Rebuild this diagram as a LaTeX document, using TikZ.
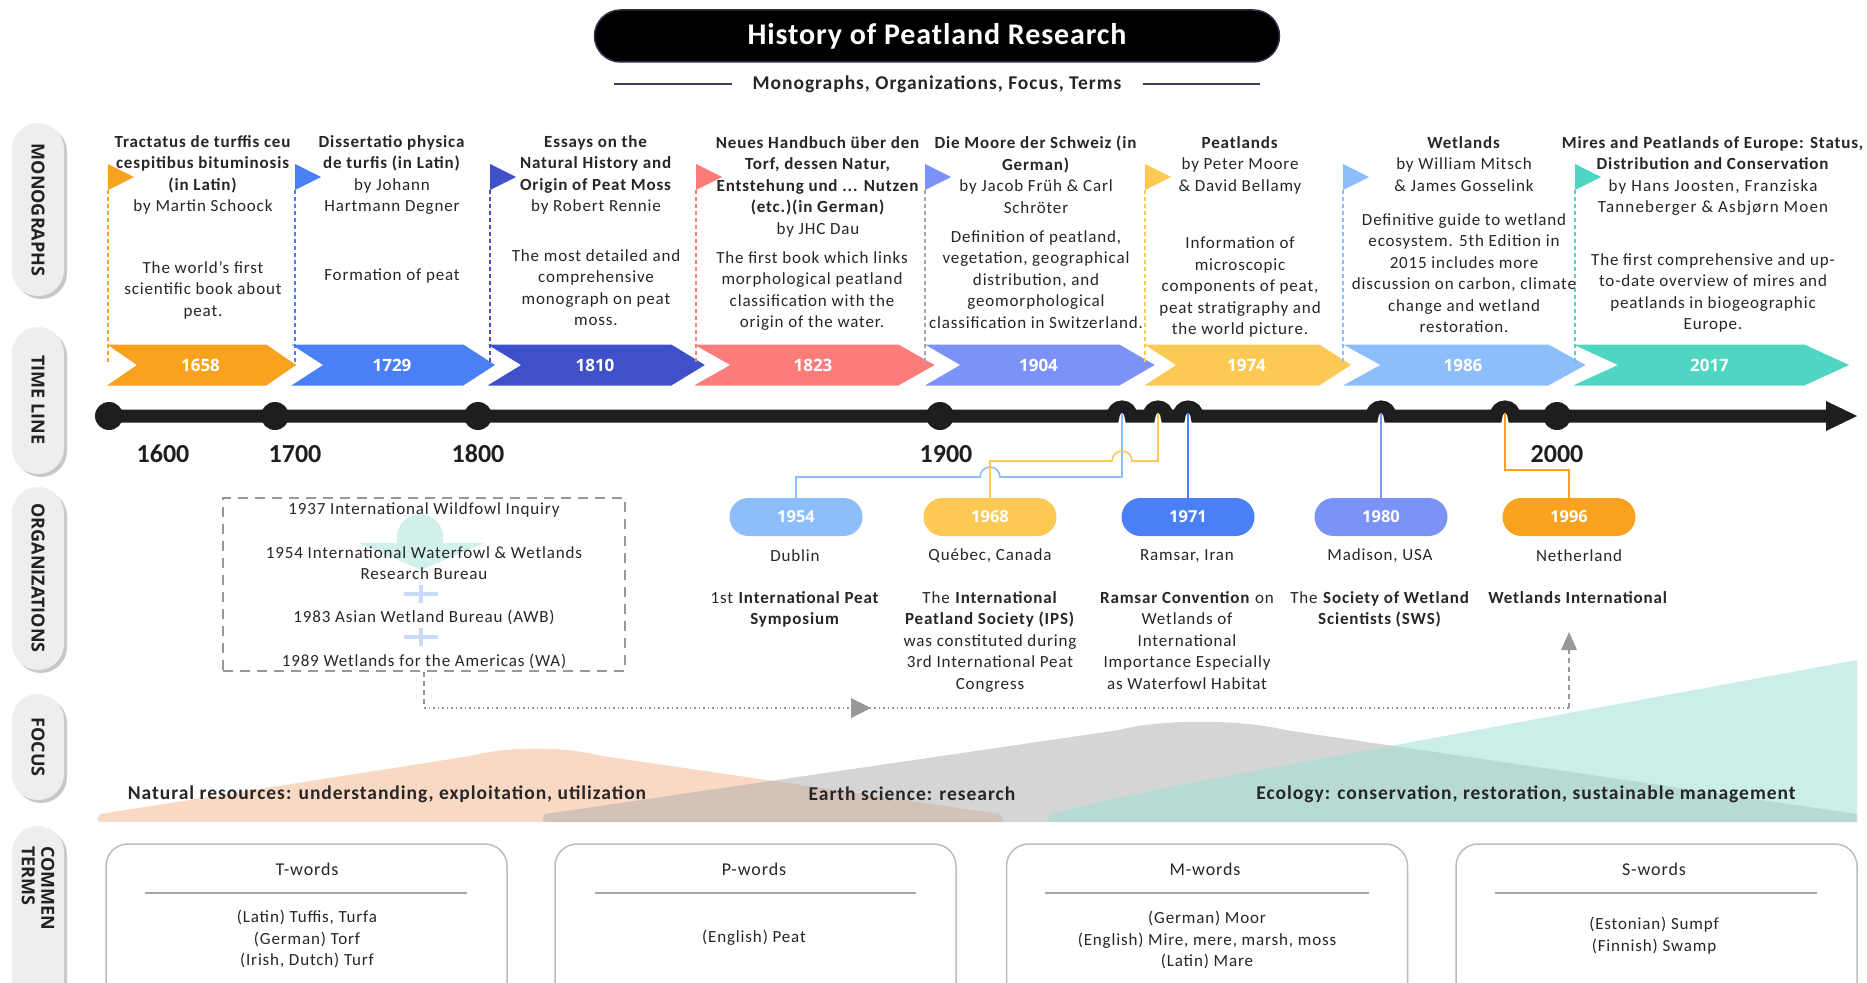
\documentclass[tikz,border=0pt]{standalone}
\usepackage{fontspec}
\setmainfont{Carlito}[LetterSpace=5]
\newfontfamily\osans{Open Sans}
\usetikzlibrary{arrows.meta}
\definecolor{txt}{HTML}{262626}
\definecolor{tlc}{HTML}{1E1E1E}
\definecolor{navyb}{HTML}{2A2F4A}
\definecolor{subln}{HTML}{3A3D5C}
\definecolor{corange}{HTML}{F8A21F}
\definecolor{cblue}{HTML}{4A80F6}
\definecolor{cnavy}{HTML}{3F51C9}
\definecolor{csalmon}{HTML}{FC7C7A}
\definecolor{cperi}{HTML}{7B92F8}
\definecolor{cyellow}{HTML}{FCC955}
\definecolor{clblue}{HTML}{8BBEFA}
\definecolor{cteal}{HTML}{4FD6C3}
\definecolor{pillfill}{HTML}{EEEEEE}
\definecolor{pillshadow}{HTML}{C8C8C8}
\definecolor{sectxt}{HTML}{222222}
\definecolor{boxgray}{HTML}{BDBDBD}
\definecolor{rulegray}{HTML}{A6A6A6}
\definecolor{dashgray}{HTML}{989898}
\definecolor{peach}{HTML}{F6B58A}
\definecolor{hillgray}{HTML}{ADADAD}
\definecolor{hillteal}{HTML}{9BDFD3}
\definecolor{arrteal}{HTML}{D3F1EC}
\definecolor{plusblue}{HTML}{C7DBF9}
\newcommand\mychev[6]{%
  \fill[#4, draw=white, line width=3pt] (#1,343) -- (#2,343) -- (#2+#3,365) -- (#2,387) -- (#1,387) -- (#1+#3,365) -- cycle;
  \node[yr] (#6) at ({(#1+#2+#3)/2},365) {#5};}
\newcommand\myflag[3]{%
  \fill[#2] (#1,164) -- (#1+26,177) -- (#1,190) -- cycle;
  \coordinate (#3) at (#1,190);}
\newcommand\mysecpill[2]{%
  \fill[pillshadow, rounded corners=26pt] (15,#1+3) rectangle (67,#2+3);
  \fill[pillfill, rounded corners=26pt] (12,#1) rectangle (64,#2);}
\begin{document}
\begin{tikzpicture}[x=1pt,y=-1pt,
 mono/.style={font=\fontsize{17}{21.5}\selectfont, align=center, inner sep=0pt, text=txt, anchor=north},
 yr/.style={font=\osans\bfseries\fontsize{17}{20}\selectfont, text=white, inner sep=0pt},
 yl/.style={font=\bfseries\fontsize{26}{30}\selectfont\addfontfeature{LetterSpace=0}, text=tlc, inner sep=0pt},
 opill/.style={rounded corners=19pt, minimum width=133pt, minimum height=38pt, text=white, font=\osans\bfseries\fontsize{16.5}{20}\selectfont, inner sep=0pt},
 oloc/.style={font=\fontsize{17}{21.5}\selectfont, text=txt, inner sep=0pt},
 conn/.style={line width=1.6pt},
 flagdash/.style={line width=1.3pt, dash pattern=on 4pt off 3pt},
 seclab/.style={font=\osans\bfseries\fontsize{18}{19.5}\selectfont, rotate=-90, text=sectxt, inner sep=0pt},
 termbox/.style={draw=boxgray, line width=1.5pt, rounded corners=22pt, minimum width=401pt, minimum height=170pt},
 termtitle/.style={font=\fontsize{18}{21.5}\selectfont, text=txt, inner sep=0pt},
 rule/.style={draw=rulegray, line width=2.5pt},
 focuslab/.style={font=\bfseries\fontsize{19.5}{22}\selectfont, text=txt, inner sep=0pt},
 tl/.style={draw=tlc, line width=13pt},
 dotline/.style={draw=dashgray, line width=1.5pt, dash pattern=on 1.5pt off 3pt},
 vdash/.style={draw=dashgray, line width=1.5pt, dash pattern=on 5pt off 4pt}
]
\useasboundingbox (0,0) rectangle (1867,982);
\fill[white] (0,0) rectangle (1867,982);

% ---------- title ----------
\node[fill=black, draw=navyb, line width=1.5pt, rounded corners=26pt, minimum width=685pt, minimum height=52pt, text=white, font=\bfseries\fontsize{30}{34}\selectfont\addfontfeature{LetterSpace=3}] (title) at (937,36) {History of Peatland Research};
\node[font=\bfseries\fontsize{19.5}{22}\selectfont, text=txt, inner sep=0pt] (sub) at (937,84) {Monographs, Organizations, Focus, Terms};
\coordinate (sl1) at (614,84); \coordinate (sl2) at (732,84);
\coordinate (sr1) at (1143,84); \coordinate (sr2) at (1260,84);
\draw[subln, line width=2pt] (sl1) -- (sl2);
\draw[subln, line width=2pt] (sr1) -- (sr2);

% ---------- section pills ----------
\mysecpill{123}{296}
\mysecpill{327}{474}
\mysecpill{487}{670}
\mysecpill{694}{800}
\mysecpill{826}{1010}
\node[seclab] (lmono) at (38,210) {MONOGRAPHS};
\node[seclab] (ltime) at (38,400) {TIME LINE};
\node[seclab] (lorg) at (38,578) {ORGANIZATIONS};
\node[seclab] (lfocus) at (38,747) {FOCUS};
\node[seclab, align=left, anchor=west] (lterms) at (38,846) {COMMEN\\TERMS};

% ---------- chevrons ----------
\mychev{102}{267}{32}{corange}{1658}{c1658}
\mychev{286}{464}{34}{cblue}{1729}{c1729}
\mychev{482}{672}{36}{cnavy}{1810}{c1810}
\mychev{688}{899}{39}{csalmon}{1823}{c1823}
\mychev{919}{1120}{38}{cperi}{1904}{c1904}
\mychev{1139}{1320}{34}{cyellow}{1974}{c1974}
\mychev{1337}{1549}{40}{clblue}{1986}{c1986}
\mychev{1566}{1805}{48}{cteal}{2017}{c2017}

% ---------- flags ----------
\myflag{108}{corange}{f1}
\myflag{295}{cblue}{f2}
\myflag{490}{cnavy}{f3}
\myflag{696}{csalmon}{f4}
\myflag{925}{cperi}{f5}
\myflag{1145}{cyellow}{f6}
\myflag{1343}{clblue}{f7}
\myflag{1575}{cteal}{f8}
\draw[flagdash, corange] (f1) -- (f1 |- c1658);
\draw[flagdash, cblue] (f2) -- (f2 |- c1729);
\draw[flagdash, cnavy] (f3) -- (f3 |- c1810);
\draw[flagdash, csalmon] (f4) -- (f4 |- c1823);
\draw[flagdash, black!35] (f5) -- (f5 |- c1904);
\draw[flagdash, cyellow] (f6) -- (f6 |- c1974);
\draw[flagdash, clblue] (f7) -- (f7 |- c1986);
\draw[flagdash, cteal] (f8) -- (f8 |- c2017);

% ---------- monographs ----------
\node[mono] (m1) at (203,135) {\textbf{Tractatus de turffis ceu}\\\textbf{cespitibus bituminosis}\\\textbf{(in Latin)}\\by Martin Schoock};
\node[mono] (d1) at (203,261) {The world's first\\scientific book about\\peat.};
\node[mono] (m2) at (392,135) {\textbf{Dissertatio physica}\\\textbf{de turfis (in Latin)}\\by Johann\\Hartmann Degner};
\node[mono] (d2) at (392,269) {Formation of peat};
\node[mono] (m3) at (596,135) {\textbf{Essays on the}\\\textbf{Natural History and}\\\textbf{Origin of Peat Moss}\\by Robert Rennie};
\node[mono] (d3) at (596,249) {The most detailed and\\comprehensive\\monograph on peat\\moss.};
\node[mono] (m4) at (818,136) {\textbf{Neues Handbuch über den}\\\textbf{Torf, dessen Natur,}\\\textbf{Entstehung und ... Nutzen}\\\textbf{(etc.)(in German)}\\by JHC Dau};
\node[mono] (d4) at (812,251) {The first book which links\\morphological peatland\\classification with the\\origin of the water.};
\node[mono] (m5) at (1036,136) {\textbf{Die Moore der Schweiz (in}\\\textbf{German)}\\by Jacob Früh \& Carl\\Schröter};
\node[mono] (d5) at (1036,230) {Definition of peatland,\\vegetation, geographical\\distribution, and\\geomorphological\\classification in Switzerland.};
\node[mono] (m6) at (1240,136) {\textbf{Peatlands}\\by Peter Moore\\\& David Bellamy};
\node[mono] (d6) at (1240,237) {Information of\\microscopic\\components of peat,\\peat stratigraphy and\\the world picture.};
\node[mono] (m7) at (1464,136) {\textbf{Wetlands}\\by William Mitsch\\\& James Gosselink};
\node[mono] (d7) at (1464,213) {Definitive guide to wetland\\ecosystem. 5th Edition in\\2015 includes more\\discussion on carbon, climate\\change and wetland\\restoration.};
\node[mono] (m8) at (1713,136) {\textbf{Mires and Peatlands of Europe: Status,}\\\textbf{Distribution and Conservation}\\\addfontfeature{LetterSpace=7}by Hans Joosten, Franziska\\\addfontfeature{LetterSpace=7}Tanneberger \& Asbjørn Moen};
\node[mono] (d8) at (1713,253) {The first comprehensive and up-\\to-date overview of mires and\\peatlands in biogeographic\\Europe.};

% ---------- time line ----------
\draw[tl] (109,416) -- (1113,416) arc[start angle=180,end angle=0,radius=9pt]
  -- (1149,416) arc[start angle=180,end angle=0,radius=9pt]
  -- (1179,416) arc[start angle=180,end angle=0,radius=9pt]
  -- (1372,416) arc[start angle=180,end angle=0,radius=9pt]
  -- (1496,416) arc[start angle=180,end angle=0,radius=9pt]
  -- (1830,416);
\fill[tlc] (1826,401) -- (1857,416) -- (1826,431) -- cycle;
\foreach \x in {109,275,478,940,1557} \fill[tlc] (\x,416) circle (14pt);
\node[yl] (y1600) at (163,454) {1600};
\node[yl] (y1700) at (295,454) {1700};
\node[yl] (y1800) at (478,454) {1800};
\node[yl] (y1900) at (946,454) {1900};
\node[yl] (y2000) at (1557,454) {2000};
\coordinate (h1) at (1122,413);
\coordinate (h2) at (1158,413);
\coordinate (h3) at (1188,413);
\coordinate (h4) at (1381,413);
\coordinate (h5) at (1505,413);

% ---------- organizations ----------
\node[opill, fill=clblue] (o1954) at (796,517) {1954};
\node[opill, fill=cyellow] (o1968) at (990,517) {1968};
\node[opill, fill=cblue] (o1971) at (1188,517) {1971};
\node[opill, fill=cperi] (o1980) at (1381,517) {1980};
\node[opill, fill=corange] (o1996) at (1569,517) {1996};

\draw[conn, clblue] (h1) -- (1122,477) -- (1000,477) arc[start angle=0,end angle=180,radius=10pt] -- (796,477) -- (o1954.north);
\draw[conn, cyellow] (h2) -- (1158,461) -- (1132,461) arc[start angle=0,end angle=180,radius=10pt] -- (990,461) -- (o1968.north);
\draw[conn, cblue] (h3) -- (o1971.north);
\draw[conn, cperi] (h4) -- (o1980.north);
\draw[conn, corange] (h5) -- (1505,470) -- (1569,470) -- (o1996.north);

\node[oloc] (l1954) at (795,556) {Dublin};
\node[oloc] (l1968) at (990,556) {Québec, Canada};
\node[oloc] (l1971) at (1187,556) {Ramsar, Iran};
\node[oloc] (l1980) at (1380,556) {Madison, USA};
\node[oloc] (l1996) at (1579,556) {Netherland};

\node[mono] (od1) at (795,591) {1st \textbf{International Peat}\\\textbf{Symposium}};
\node[mono] (od2) at (990,591) {The \textbf{International}\\\textbf{Peatland Society (IPS)}\\was constituted during\\3rd International Peat\\Congress};
\node[mono] (od3) at (1187,591) {\textbf{Ramsar Convention} on\\Wetlands of\\International\\Importance Especially\\as Waterfowl Habitat};
\node[mono] (od4) at (1380,591) {The \textbf{Society of Wetland}\\\textbf{Scientists (SWS)}};
\node[mono] (od5) at (1578,591) {\textbf{Wetlands International}};

% left dashed box
\fill[arrteal] (397,543) -- (397,537) arc[start angle=180,end angle=0,radius=23pt] -- (443,543) -- (484,543) -- (421,570) -- (358,543) -- cycle;
\draw[plusblue, line width=4pt] (404,594) -- (438,594) (421,585) -- (421,603);
\draw[plusblue, line width=4pt] (404,637) -- (438,637) (421,628) -- (421,646);
\node[draw=dashgray, line width=2.5pt, dash pattern=on 10pt off 7pt, minimum width=402pt, minimum height=173pt, inner sep=0pt] (orgbox) at (424,584.5) {};
\node[oloc] (ob1) at (424,510) {1937 International Wildfowl Inquiry};
\node[mono] (ob2) at (424,546) {1954 International Waterfowl \& Wetlands\\Research Bureau};
\node[oloc] (ob3) at (424,617) {1983 Asian Wetland Bureau (AWB)};
\node[oloc] (ob4) at (424,661) {1989 Wetlands for the Americas (WA)};

\coordinate (dl1) at (424,708);
\coordinate (dl2) at (1569,708);
\coordinate (wiarr) at (1569,632);
\draw[vdash] (orgbox.south) -- (dl1);
\draw[dotline] (dl1) -- (dl2);
\draw[vdash] (dl2) -- (1569,650);
\fill[dashgray] (1561,650) -- (wiarr) -- (1577,650) -- cycle;
\fill[dashgray] (851,698) -- (871,708) -- (851,718) -- cycle;

% ---------- focus ----------
\fill[peach, fill opacity=0.5] (100,814) -- (470,756) .. controls (510,746) and (562,746) .. (602,756) -- (1000,814) .. controls (1006,822) .. (990,822) -- (112,822) .. controls (96,822) .. (100,814) -- cycle;
\fill[hillgray, fill opacity=0.5] (545,814) -- (1119,730) .. controls (1160,719) and (1240,719) .. (1285,730) -- (1857,814) -- (1857,822) -- (557,822) .. controls (541,822) .. (545,814) -- cycle;
\fill[hillteal, fill opacity=0.5] (1050,814) .. controls (1080,806) and (1130,795) .. (1200,781) -- (1857,660) -- (1857,822) -- (1062,822) .. controls (1046,822) .. (1050,814) -- cycle;
\node[focuslab] (fc1) at (387,794) {Natural resources: understanding, exploitation, utilization};
\node[focuslab] (fc2) at (912,794) {Earth science: research};
\node[focuslab] (fc3) at (1526,794) {Ecology: conservation, restoration, sustainable management};

% ---------- terms ----------
\node[termbox] (tb1) at (306.5,929) {};
\node[termbox] (tb2) at (755.5,929) {};
\node[termbox] (tb3) at (1207,929) {};
\node[termbox] (tb4) at (1656.5,929) {};
\node[termtitle] (tt1) at (307,869) {T-words};
\node[termtitle] (tt2) at (754,869) {P-words};
\node[termtitle] (tt3) at (1205,869) {M-words};
\node[termtitle] (tt4) at (1654,869) {S-words};
\draw[rule] (145,893) -- (467,893);
\draw[rule] (595,893) -- (916,893);
\draw[rule] (1045,893) -- (1369,893);
\draw[rule] (1495,893) -- (1817,893);
\node[mono] (tc1) at (307,910) {(Latin) Tuffis, Turfa\\(German) Torf\\(Irish, Dutch) Turf};
\node[mono] (tc2) at (754,930) {(English) Peat};
\node[mono] (tc3) at (1207,911) {(German) Moor\\(English) Mire, mere, marsh, moss\\(Latin) Mare};
\node[mono] (tc4) at (1654,917) {(Estonian) Sumpf\\(Finnish) Swamp};
\end{tikzpicture}
\end{document}
